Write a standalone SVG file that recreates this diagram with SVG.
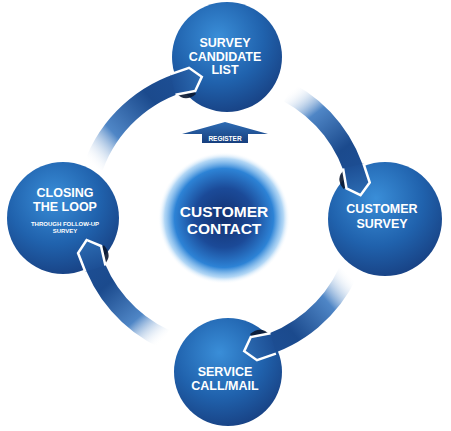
<svg xmlns="http://www.w3.org/2000/svg" width="451" height="431" viewBox="0 0 451 431">
<defs>
<style>
.lbl{font-family:"Liberation Sans",Arial,sans-serif;font-weight:bold;fill:#ffffff;text-anchor:middle}
.arc{fill:none;stroke-width:20}
.head{stroke:#ffffff;stroke-width:2.5;stroke-linejoin:miter}
</style>
<radialGradient id="nodeG" cx="0.42" cy="0.32" r="0.75">
<stop offset="0" stop-color="#3a8ed8"/>
<stop offset="0.55" stop-color="#2062ad"/>
<stop offset="1" stop-color="#173d7e"/>
</radialGradient>
<radialGradient id="centerG" cx="0.5" cy="0.5" r="0.5">
<stop offset="0" stop-color="#13306f"/>
<stop offset="0.45" stop-color="#1b4a98"/>
<stop offset="0.75" stop-color="#2d83d6"/>
<stop offset="0.9" stop-color="#7fbcef" stop-opacity="0.6"/>
<stop offset="1" stop-color="#ffffff" stop-opacity="0"/>
</radialGradient>
<linearGradient id="headG" x1="0" y1="0" x2="1" y2="0">
<stop offset="0" stop-color="#1d4f95"/>
<stop offset="1" stop-color="#2c6cb3"/>
</linearGradient>
<linearGradient id="regG" x1="0" y1="0" x2="0" y2="1">
<stop offset="0" stop-color="#2e6cb4"/>
<stop offset="1" stop-color="#173f7e"/>
</linearGradient>
<linearGradient id="a1" gradientUnits="userSpaceOnUse" x1="93" y1="167" x2="187" y2="81">
<stop offset="0" stop-color="#ffffff" stop-opacity="0"/>
<stop offset="0.3" stop-color="#4f86c6"/>
<stop offset="0.7" stop-color="#1b4a8d"/>
<stop offset="1" stop-color="#1d4f95"/>
</linearGradient>
<linearGradient id="a2" gradientUnits="userSpaceOnUse" x1="288" y1="92" x2="357" y2="181">
<stop offset="0" stop-color="#ffffff" stop-opacity="0"/>
<stop offset="0.3" stop-color="#4f86c6"/>
<stop offset="0.7" stop-color="#1b4a8d"/>
<stop offset="1" stop-color="#1d4f95"/>
</linearGradient>
<linearGradient id="a3" gradientUnits="userSpaceOnUse" x1="348" y1="272" x2="259" y2="347">
<stop offset="0" stop-color="#ffffff" stop-opacity="0"/>
<stop offset="0.3" stop-color="#4f86c6"/>
<stop offset="0.7" stop-color="#1b4a8d"/>
<stop offset="1" stop-color="#1d4f95"/>
</linearGradient>
<linearGradient id="a4" gradientUnits="userSpaceOnUse" x1="165" y1="339" x2="91" y2="254">
<stop offset="0" stop-color="#ffffff" stop-opacity="0"/>
<stop offset="0.3" stop-color="#4f86c6"/>
<stop offset="0.7" stop-color="#1b4a8d"/>
<stop offset="1" stop-color="#1d4f95"/>
</linearGradient>
<g id="arrowHead">
<path d="M-14,9 Q-8,21 5,15 L3,10 Z" fill="#0a1730" opacity="0.9"/>
<path class="head" d="M-15,-10.5 L5,-12 L15,0 L5,12 L-15,10.5" fill="url(#headG)"/>
</g>
</defs>

<g id="center-node">
<circle cx="224" cy="218" r="66" fill="url(#centerG)"/>
<text class="lbl" x="224" y="217" font-size="15.5">CUSTOMER</text>
<text class="lbl" x="224" y="234" font-size="15.5">CONTACT</text>
</g>

<g id="node-survey-candidate-list">
<circle cx="227" cy="57" r="55" fill="url(#nodeG)"/>
<text class="lbl" x="225" y="47" font-size="12.5">SURVEY</text>
<text class="lbl" x="225" y="60.5" font-size="12.5">CANDIDATE</text>
<text class="lbl" x="225" y="74" font-size="12.5">LIST</text>
</g>

<g id="node-customer-survey">
<circle cx="385" cy="219" r="57" fill="url(#nodeG)"/>
<text class="lbl" x="382" y="213" font-size="12.5">CUSTOMER</text>
<text class="lbl" x="382" y="228" font-size="12.5">SURVEY</text>
</g>

<g id="node-service-call-mail">
<circle cx="228" cy="372" r="54" fill="url(#nodeG)"/>
<text class="lbl" x="225" y="376" font-size="12.5">SERVICE</text>
<text class="lbl" x="225" y="390" font-size="12.5">CALL/MAIL</text>
</g>

<g id="node-closing-the-loop">
<circle cx="63" cy="218" r="56" fill="url(#nodeG)"/>
<text class="lbl" x="65" y="197" font-size="12.5">CLOSING</text>
<text class="lbl" x="65" y="211" font-size="12.5">THE LOOP</text>
<text class="lbl" x="65" y="226" font-size="6">THROUGH FOLLOW-UP</text>
<text class="lbl" x="65" y="233" font-size="6">SURVEY</text>
</g>

<g id="register">
<polygon points="225,122 268,134 248,134 248,143 202,143 202,134 182,134" fill="url(#regG)"/>
<text class="lbl" x="225" y="141" font-size="6.5">REGISTER</text>
</g>

<g id="connectors">
<path class="arc" d="M93.3,166.8 A138,138 0 0 1 187.3,80.7" stroke="url(#a1)"/>
<use href="#arrowHead" transform="translate(187.3,80.7) rotate(345)"/>
<path class="arc" d="M288.8,92.6 A138,138 0 0 1 356.9,180.6" stroke="url(#a2)"/>
<use href="#arrowHead" transform="translate(356.9,180.6) rotate(76)"/>
<path class="arc" d="M348.1,272.3 A138,138 0 0 1 258.7,347.3" stroke="url(#a3)"/>
<use href="#arrowHead" transform="translate(258.7,347.3) rotate(165)"/>
<path class="arc" d="M164.7,339.1 A138,138 0 0 1 91,254.3" stroke="url(#a4)"/>
<use href="#arrowHead" transform="translate(91,254.3) rotate(253)"/>
</g>
</svg>
